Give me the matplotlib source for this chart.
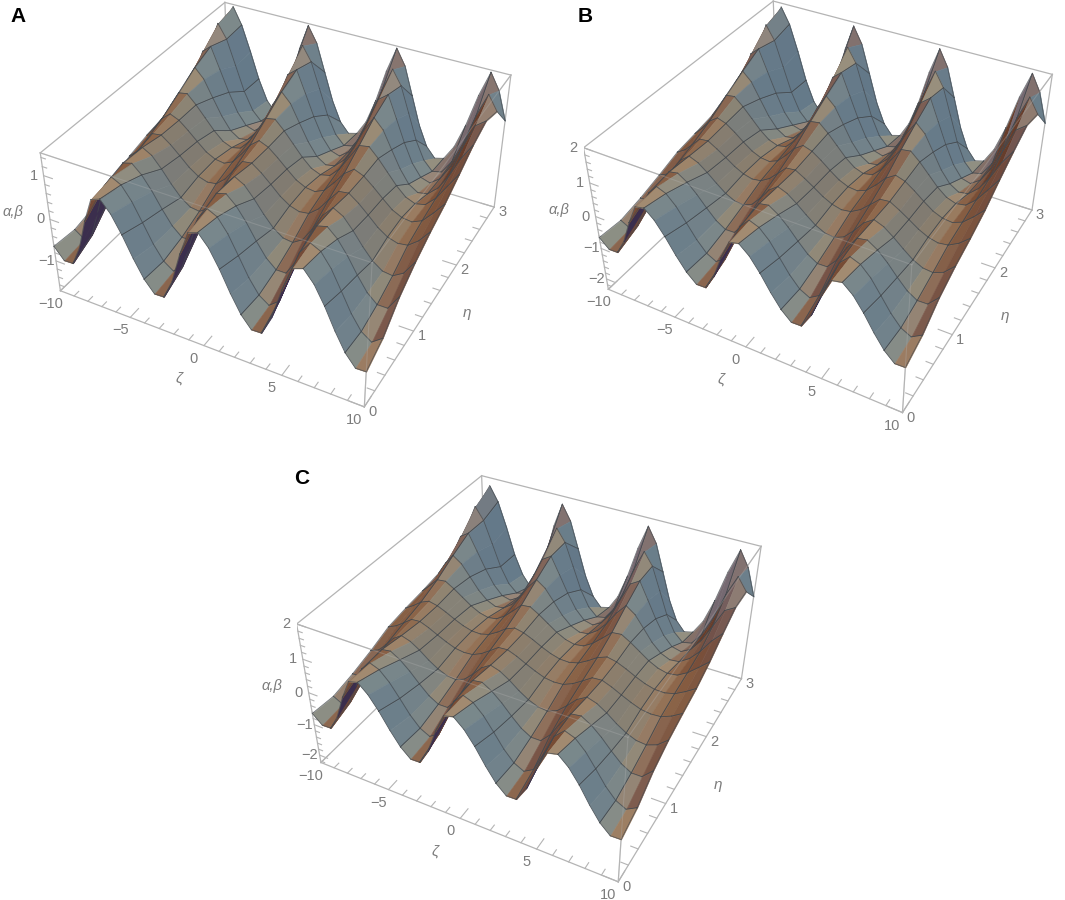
import numpy as np
import matplotlib
matplotlib.use("Agg")
import matplotlib.pyplot as plt
from mpl_toolkits.mplot3d import proj3d, art3d

zeta_values = [-10+0.625*i for i in range(33)]
eta_values = [0,0.3,0.6,0.9,1.2,1.5,1.8,2.1,2.4,2.7,3.0]

surface_A = [
[-.64,-.91,-.90,-.45,.25,.82,.90,.64,.24,-.23,-.64,-.91,-.90,-.45,.25,.82,.90,.64,.24,-.23,-.64,-.91,-.90,-.45,.25,.82,.90,.64,.24,-.23,-.64,-.91,-.90],
[-.69,-.85,-.67,-.05,.61,.90,.79,.49,.07,-.36,-.69,-.85,-.67,-.05,.61,.90,.79,.49,.07,-.36,-.69,-.85,-.67,-.05,.61,.90,.79,.49,.07,-.36,-.69,-.85,-.67],
[-.58,-.58,-.23,.31,.74,.80,.60,.30,-.06,-.38,-.58,-.58,-.23,.31,.74,.80,.60,.30,-.06,-.38,-.58,-.58,-.23,.31,.74,.80,.60,.30,-.06,-.38,-.58,-.58,-.23],
[-.40,-.26,.07,.46,.70,.58,.33,.04,-.21,-.37,-.40,-.26,.07,.46,.70,.58,.33,.04,-.21,-.37,-.40,-.26,.07,.46,.70,.58,.33,.04,-.21,-.37,-.40,-.26,.07],
[-.16,.02,.30,.57,.60,.44,.24,.03,-.12,-.19,-.16,.02,.30,.57,.60,.44,.24,.03,-.12,-.19,-.16,.02,.30,.57,.60,.44,.24,.03,-.12,-.19,-.16,.02,.30],
[-.04,.21,.49,.66,.57,.39,.19,.0,-.11,-.14,-.04,.21,.49,.66,.57,.39,.19,.0,-.11,-.14,-.04,.21,.49,.66,.57,.39,.19,.0,-.11,-.14,-.04,.21,.49],
[.05,.40,.74,.78,.57,.32,.07,-.13,-.22,-.17,.05,.40,.74,.78,.57,.32,.07,-.13,-.22,-.17,.05,.40,.74,.78,.57,.32,.07,-.13,-.22,-.17,.05,.40,.74],
[.17,.64,1.0,.78,.38,-.01,-.31,-.45,-.41,-.20,.17,.64,1.0,.78,.38,-.01,-.31,-.45,-.41,-.20,.17,.64,1.0,.78,.38,-.01,-.31,-.45,-.41,-.20,.17,.64,1.0],
[.44,1.0,1.17,.67,.16,-.28,-.56,-.63,-.46,-.09,.44,1.0,1.17,.67,.16,-.28,-.56,-.63,-.46,-.09,.44,1.0,1.17,.67,.16,-.28,-.56,-.63,-.46,-.09,.44,1.0,1.17],
[.81,1.35,1.02,.43,-.17,-.60,-.82,-.77,-.44,.10,.81,1.35,1.02,.43,-.17,-.60,-.82,-.77,-.44,.10,.81,1.35,1.02,.43,-.17,-.60,-.82,-.77,-.44,.10,.81,1.35,1.02],
[1.1,1.45,1.05,.45,-.2,-.7,-.95,-.75,-.1,.85,1.45,1.09,.43,-.23,-.71,-.95,-.89,-.53,.07,.85,1.45,1.09,.43,-.23,-.71,-.95,-.89,-.53,.07,.85,1.45,1.09,.43],
]
surface_B = [
[-.65,-.92,-.91,-.46,.22,.79,.85,.60,.21,-.25,-.65,-.92,-.91,-.46,.22,.79,.85,.60,.21,-.25,-.65,-.92,-.91,-.46,.22,.79,.85,.60,.21,-.25,-.65,-.92,-.91],
[-.70,-.85,-.67,-.08,.54,.82,.71,.43,.03,-.38,-.70,-.85,-.67,-.08,.54,.82,.71,.43,.03,-.38,-.70,-.85,-.67,-.08,.54,.82,.71,.43,.03,-.38,-.70,-.85,-.67],
[-.56,-.55,-.24,.24,.63,.68,.50,.23,-.09,-.38,-.56,-.55,-.24,.24,.63,.68,.50,.23,-.09,-.38,-.56,-.55,-.24,.24,.63,.68,.50,.23,-.09,-.38,-.56,-.55,-.24],
[-.37,-.25,.04,.38,.58,.47,.26,.02,-.20,-.34,-.37,-.25,.04,.38,.58,.47,.26,.02,-.20,-.34,-.37,-.25,.04,.38,.58,.47,.26,.02,-.20,-.34,-.37,-.25,.04],
[-.16,0,.25,.51,.54,.38,.20,.01,-.13,-.20,-.16,0,.25,.51,.54,.38,.20,.01,-.13,-.20,-.16,0,.25,.51,.54,.38,.20,.01,-.13,-.20,-.16,0,.25],
[-.06,.20,.50,.68,.59,.40,.18,-.02,-.14,-.17,-.06,.20,.50,.68,.59,.40,.18,-.02,-.14,-.17,-.06,.20,.50,.68,.59,.40,.18,-.02,-.14,-.17,-.06,.20,.50],
[.05,.44,.84,.88,.64,.35,.06,-.16,-.26,-.21,.05,.44,.84,.88,.64,.35,.06,-.16,-.26,-.21,.05,.44,.84,.88,.64,.35,.06,-.16,-.26,-.21,.05,.44,.84],
[.17,.73,1.15,.90,.43,-.04,-.38,-.55,-.51,-.25,.17,.73,1.15,.90,.43,-.04,-.38,-.55,-.51,-.25,.17,.73,1.15,.90,.43,-.04,-.38,-.55,-.51,-.25,.17,.73,1.15],
[.50,1.20,1.42,.79,.16,-.39,-.74,-.82,-.62,-.16,.50,1.20,1.42,.79,.16,-.39,-.74,-.82,-.62,-.16,.50,1.20,1.42,.79,.16,-.39,-.74,-.82,-.62,-.16,.50,1.20,1.42],
[1.0,1.70,1.28,.51,-.26,-.82,-1.10,-1.03,-.61,.09,1.0,1.70,1.28,.51,-.26,-.82,-1.10,-1.03,-.61,.09,1.0,1.70,1.28,.51,-.26,-.82,-1.10,-1.03,-.61,.09,1.0,1.70,1.28],
[1.4,1.88,1.4,.6,-.3,-.95,-1.3,-1.0,-.15,1.09,1.88,1.40,.53,-.35,-.98,-1.30,-1.22,-.74,.05,1.09,1.88,1.40,.53,-.35,-.98,-1.30,-1.22,-.74,.05,1.09,1.88,1.40,.53],
]
surface_C = [
[-.64,-.91,-.90,-.45,.25,.82,.89,.63,.24,-.23,-.64,-.91,-.90,-.45,.25,.82,.89,.63,.24,-.23,-.64,-.91,-.90,-.45,.25,.82,.89,.63,.24,-.23,-.64,-.91,-.90],
[-.70,-.85,-.68,-.09,.53,.80,.69,.41,.02,-.39,-.70,-.85,-.68,-.09,.53,.80,.69,.41,.02,-.39,-.70,-.85,-.68,-.09,.53,.80,.69,.41,.02,-.39,-.70,-.85,-.68],
[-.56,-.56,-.27,.19,.56,.60,.43,.18,-.12,-.39,-.56,-.56,-.27,.19,.56,.60,.43,.18,-.12,-.39,-.56,-.56,-.27,.19,.56,.60,.43,.18,-.12,-.39,-.56,-.56,-.27],
[-.37,-.26,-.01,.28,.45,.36,.18,-.04,-.22,-.34,-.37,-.26,-.01,.28,.45,.36,.18,-.04,-.22,-.34,-.37,-.26,-.01,.28,.45,.36,.18,-.04,-.22,-.34,-.37,-.26,-.01],
[-.14,-.02,.16,.35,.37,.26,.12,-.01,-.12,-.16,-.14,-.02,.16,.35,.37,.26,.12,-.01,-.12,-.16,-.14,-.02,.16,.35,.37,.26,.12,-.01,-.12,-.16,-.14,-.02,.16],
[-.04,.12,.31,.42,.36,.24,.10,-.02,-.10,-.11,-.04,.12,.31,.42,.36,.24,.10,-.02,-.10,-.11,-.04,.12,.31,.42,.36,.24,.10,-.02,-.10,-.11,-.04,.12,.31],
[.03,.28,.54,.57,.41,.22,.03,-.11,-.18,-.14,.03,.28,.54,.57,.41,.22,.03,-.11,-.18,-.14,.03,.28,.54,.57,.41,.22,.03,-.11,-.18,-.14,.03,.28,.54],
[.13,.54,.85,.66,.32,-.03,-.28,-.40,-.37,-.18,.13,.54,.85,.66,.32,-.03,-.28,-.40,-.37,-.18,.13,.54,.85,.66,.32,-.03,-.28,-.40,-.37,-.18,.13,.54,.85],
[.39,.95,1.12,.62,.11,-.33,-.61,-.68,-.52,-.15,.39,.95,1.12,.62,.11,-.33,-.61,-.68,-.52,-.15,.39,.95,1.12,.62,.11,-.33,-.61,-.68,-.52,-.15,.39,.95,1.12],
[.86,1.48,1.11,.43,-.26,-.75,-1.0,-.94,-.57,.05,.86,1.48,1.11,.43,-.26,-.75,-1.0,-.94,-.57,.05,.86,1.48,1.11,.43,-.26,-.75,-1.0,-.94,-.57,.05,.86,1.48,1.11],
[1.3,1.75,1.3,.55,-.3,-.9,-1.25,-.95,-.1,1.0,1.75,1.30,.48,-.35,-.95,-1.25,-1.18,-.73,.03,1.0,1.75,1.30,.48,-.35,-.95,-1.25,-1.18,-.73,.03,1.0,1.75,1.30,.48],
]
z_limits_A = (-1.75, 1.5)
z_limits_B = (-2.35, 2.0)
z_limits_C = (-2.25, 2.0)
z_ticks_A = [-1, 0, 1]
z_ticks_B = [-2, -1, 0, 1, 2]
z_ticks_C = [-2, -1, 0, 1, 2]
zeta_ticks = [-10, -5, 0, 5, 10]
eta_ticks = [0, 1, 2, 3]

W, H = 1065, 900
GREY = '#7c7c7c'
BOX = '#b4b4b4'
MESH = '#44494e'
plt.rcParams['font.family'] = ['Liberation Sans', 'DejaVu Sans']
fig = plt.figure(figsize=(W/100, H/100), dpi=100, facecolor='white')

ang = np.array([-90, -65, -45, -25, -10, 0, 12, 28, 45, 65, 90], float)
col = np.array([
    [.34,.19,.14], [.44,.26,.17], [.50,.33,.23], [.57,.42,.31], [.62,.50,.39],
    [.64,.55,.45], [.61,.56,.48], [.55,.56,.52], [.47,.53,.55], [.40,.48,.54], [.36,.44,.51]])


def face_colour(gx, gy, back, front_row, eta):
    n = np.array([-gx, -gy, 1.0])
    n /= np.linalg.norm(n)
    if back:
        return (.23, .18, .30) if front_row else (.40, .24, .17)
    a = np.degrees(np.arctan2(n[0], n[2]))
    c = np.array([np.interp(a, ang, col[:, k]) for k in range(3)])
    f = np.clip((gy - 0.15) * 1.3, 0, .8)
    c = c * (1 - f) + np.array([.36, .29, .37]) * f
    band = np.exp(-((eta - 1.3) / .55)**2) * .3
    c = c * (1 - band) + np.array([.50, .34, .23]) * band
    if a < 15:
        top = np.clip((eta - 2.0) / 1.0, 0, 1) * .7
        c = c * (1 - top) + np.array([.52, .50, .52]) * top
    return tuple(c)


def fit_error(ax, corners, targets):
    xp, yp, _ = proj3d.proj_transform(corners[:, 0], corners[:, 1], corners[:, 2], ax.get_proj())
    xp, yp = np.asarray(xp), np.asarray(yp)
    X, Y = targets[:, 0], H - targets[:, 1]
    dx, dy, dX, dY = xp - xp.mean(), yp - yp.mean(), X - X.mean(), Y - Y.mean()
    s = ((dx * dX).sum() + (dy * dY).sum()) / ((dx**2).sum() + (dy**2).sum())
    err = ((s * dx - dX)**2 + (s * dy - dY)**2).sum()
    return err, s, X.mean() - s * xp.mean(), Y.mean() - s * yp.mean()


def panel(surface, zlim, zticks, targets, letter, letter_xy):
    Z = np.array(surface, float)
    xs, ys = np.array(zeta_values), np.array(eta_values)
    zlo, zhi = zlim
    ax = fig.add_axes([0.1, 0.1, 500 / W, 500 / H], projection='3d')
    ax.patch.set_alpha(0)
    ax.set_axis_off()
    ax.computed_zorder = False
    ax.set_xlim(-10, 10); ax.set_ylim(0, 3); ax.set_zlim(zlo, zhi)
    ax.set_autoscale_on(False)
    corners = np.array([[-10, 0, zhi], [-10, 0, zlo], [10, 0, zlo], [10, 3, zhi],
                        [10, 3, zlo], [-10, 3, zhi]], float)
    T = np.array(targets, float)
    best = None
    for za in (.35, .4, .45, .5, .55, .6, .65):
        ax.set_box_aspect((1, 1, za))
        for e in np.arange(22, 50, 3.):
            for az in np.arange(-74, -46, 3.):
                for f in (.3, .4, .5, .65, .85, 1.1):
                    ax.view_init(elev=e, azim=az)
                    ax.set_proj_type('persp', focal_length=f)
                    err = fit_error(ax, corners, T)[0]
                    if best is None or err < best[0]:
                        best = (err, e, az, f, za)
    _, e0, a0, f0, z0 = best
    for za in (z0 - .03, z0, z0 + .03):
        ax.set_box_aspect((1, 1, za))
        for e in np.arange(e0 - 2, e0 + 2.1, 1):
            for az in np.arange(a0 - 2, a0 + 2.1, 1):
                for f in np.array([.85, 1, 1.15]) * f0:
                    ax.view_init(elev=e, azim=az)
                    ax.set_proj_type('persp', focal_length=f)
                    err = fit_error(ax, corners, T)[0]
                    if err < best[0]:
                        best = (err, e, az, f, za)
    _, e0, a0, f0, z0 = best
    ax.set_box_aspect((1, 1, z0))
    ax.view_init(elev=e0, azim=a0)
    ax.set_proj_type('persp', focal_length=f0)
    _, s, tx, ty = fit_error(ax, corners, T)
    vl = ax.viewLim
    S = s * (vl.x1 - vl.x0)
    ax.set_position([(tx + s * vl.x0) / W, (ty + s * vl.y0) / H, S / W, S / H])

    def to_px(a, b, c):
        xp, yp, _ = proj3d.proj_transform(a, b, c, ax.get_proj())
        return float(xp) * s + tx, float(yp) * s + ty

    def lab(a, b, c, dx, dy, txt, **kw):
        px, py = to_px(a, b, c)
        fig.text((px + dx) / W, (py - dy) / H, txt, ha='center', va='center',
                 color=GREY, fontsize=kw.pop('fontsize', 10.5), **kw)

    def seg(a, b, z, **kw):
        l = art3d.Line3D([a[0], b[0]], [a[1], b[1]], [a[2], b[2]], zorder=z, **kw)
        ax.add_line(l)

    C = {(i, j, k): (x, y, zz) for i, x in enumerate((-10, 10)) for j, y in enumerate((0, 3)) for k, zz in enumerate((zlo, zhi))}
    edges = [((0,0,0),(1,0,0)),((1,0,0),(1,1,0)),((1,1,0),(0,1,0)),((0,1,0),(0,0,0)),
             ((0,0,1),(1,0,1)),((1,0,1),(1,1,1)),((1,1,1),(0,1,1)),((0,1,1),(0,0,1)),
             ((0,0,0),(0,0,1)),((1,0,0),(1,0,1)),((1,1,0),(1,1,1)),((0,1,0),(0,1,1))]
    for p, q in edges:
        seg(C[p], C[q], 1, color=BOX, lw=.9)
    for v in range(-10, 11):
        L = .13 if v % 5 == 0 else .07
        seg((v, 0, zlo), (v, L, zlo), 2, color=BOX, lw=.8)
    for v in np.arange(0, 3.01, .2):
        L = .9 if abs(v - round(v)) < 1e-6 else .45
        seg((10, v, zlo), (10 - L, v, zlo), 2, color=BOX, lw=.8)
    for v in np.arange(np.ceil(zlo * 5) / 5, zhi + 1e-6, .2):
        L = .6 if abs(v - round(v)) < 1e-6 else .3
        seg((-10, 0, v), (-10 + L, 0, v), 2, color=BOX, lw=.8)

    az, el = np.radians(a0), np.radians(e0)
    eye_dir = np.array([np.cos(el) * np.cos(az), np.cos(el) * np.sin(az), np.sin(el)])
    nx, ny = Z.shape[1], Z.shape[0]
    dz = xs[1] - xs[0]; de = ys[1] - ys[0]
    ZX = (Z[:-1, 1:] - Z[:-1, :-1] + Z[1:, 1:] - Z[1:, :-1]) / 2 / dz
    ZY = (Z[1:, :-1] - Z[:-1, :-1] + Z[1:, 1:] - Z[:-1, 1:]) / 2 / de
    GX, GY = ZX * 8 / 3.25, ZY * 1.2 / 3.25

    def soften(A):
        P = np.pad(A, 1, mode='edge')
        return (4 * A + 2 * (P[1:-1, :-2] + P[1:-1, 2:]) + (P[:-2, 1:-1] + P[2:, 1:-1])) / 10
    SX, SY = soften(GX), soften(GY)
    order = 10
    for j in range(ny - 2, -1, -1):
        for i in range(nx - 1):
            zxb = ZX[j, i] * 20 / (zhi - zlo) * z0
            zyb = ZY[j, i] * 3 / (zhi - zlo) * z0
            n_box = np.array([-zxb, -zyb, 1.0])
            back = n_box @ eye_dir < 0
            fc = face_colour(SX[j, i], SY[j, i], back, j <= 1 and i < 29, (ys[j] + ys[j + 1]) / 2)
            quad = [(xs[i], ys[j], Z[j, i]), (xs[i + 1], ys[j], Z[j, i + 1]),
                    (xs[i + 1], ys[j + 1], Z[j + 1, i + 1]), (xs[i], ys[j + 1], Z[j + 1, i])]
            pc = art3d.Poly3DCollection([quad], facecolors=[fc], edgecolors=[fc], linewidths=.4, zorder=order)
            ax.add_collection3d(pc, autolim=False)
            order += 1
            lx, ly, lz = [], [], []
            pairs = [(0, 1), (3, 2)]
            if i % 2 == 0:
                pairs.append((0, 3))
            if (i + 1) % 2 == 0:
                pairs.append((1, 2))
            for a, b in pairs:
                lx += [quad[a][0], quad[b][0], np.nan]
                ly += [quad[a][1], quad[b][1], np.nan]
                lz += [quad[a][2], quad[b][2], np.nan]
            ax.add_line(art3d.Line3D(lx, ly, lz, color=MESH, lw=.6, alpha=.75, zorder=order))
            order += 1
    for p, q in (((0,0,1),(1,0,1)), ((1,0,0),(1,0,1)), ((1,0,1),(1,1,1))):
        seg(C[p], C[q], order + 1, color=BOX, lw=.8, alpha=.3)

    for v in zticks:
        lab(-10, 0, v, -10, 0, str(v).replace('-', '\u2212'))
    for v in zeta_ticks:
        lab(v, 0, zlo, -10, 13, str(v).replace('-', '\u2212'))
    for v in eta_ticks:
        lab(10, v, zlo, 8, 5, str(v))
    lab(0, 0, zlo, -25, 33, '\u03b6', style='italic', fontsize=11)
    lab(10, 1.5, zlo, 31, 16, '\u03b7', style='italic', fontsize=11)
    lab(-10, 0, 0, -37, -7, '\u03b1,\u03b2', style='italic', fontsize=10.5)
    fig.text(letter_xy[0] / W, 1 - letter_xy[1] / H, letter, fontsize=15, fontweight='bold',
             color='black', ha='center', va='center')


panel(surface_A, z_limits_A, z_ticks_A,
      [(40,151),(62,290),(363,410),(510,75),(493,208),(227,1)], 'A', (18,17))
panel(surface_B, z_limits_B, z_ticks_B,
      [(585,151),(606,289),(905,411),(1052,75),(1033,208),(771,1)], 'B', (585,17))
panel(surface_C, z_limits_C, z_ticks_C,
      [(299,623),(320,762),(616,883),(760,547),(743,680),(482,474)], 'C', (302,478))

fig.savefig('out.png', dpi=100, facecolor='white')
